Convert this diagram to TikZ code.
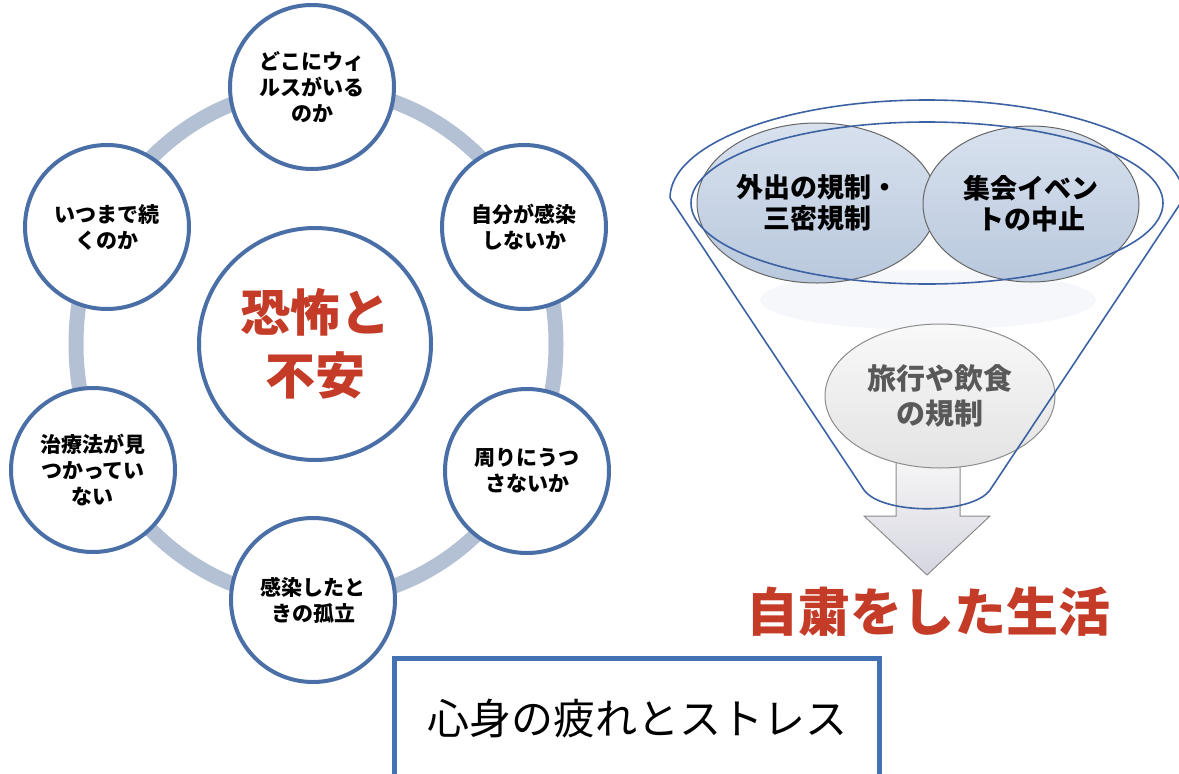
\documentclass[tikz,border=0pt]{standalone}
\usepackage{fontspec}
\setmainfont{Noto Sans CJK JP}
\usepackage{tikz}
\usetikzlibrary{positioning,shapes.geometric}
\definecolor{ringgray}{HTML}{B4C1D5}
\definecolor{rimblue}{HTML}{4A6EA6}
\definecolor{funnelblue}{HTML}{3D62A3}
\definecolor{boxblue}{HTML}{4272B4}
\definecolor{alarmred}{HTML}{C43C28}
\definecolor{curbtop}{HTML}{D8E1EE}
\definecolor{curbbottom}{HTML}{B9C8DD}
\definecolor{haze}{HTML}{F5F7FA}
\tikzset{%
	worry/.style    = {draw=rimblue, line width=4pt, fill=white, circle, minimum size=164pt, inner sep=0pt, align=center, font=\bfseries\fontsize{21}{26}\selectfont},
	core/.style     = {draw=rimblue, line width=4pt, fill=white, circle, minimum size=232pt, inner sep=0pt, align=center, text=alarmred, font=\bfseries\fontsize{50}{63}\selectfont},
	curb/.style     = {draw=black!60, line width=1pt, ellipse, inner sep=0pt, top color=curbtop, bottom color=curbbottom, align=center, font=\bfseries\fontsize{27}{31}\selectfont},
	softcurb/.style = {draw=black!45, line width=1pt, ellipse, inner sep=0pt, top color=gray!5, bottom color=gray!22, align=center, text=black!65, font=\bfseries\fontsize{29}{35}\selectfont},
	funnel/.style   = {draw=funnelblue, line width=1.6pt},
	outcome/.style  = {text=alarmred, font=\bfseries\fontsize{52}{60}\selectfont},
	stressbox/.style= {draw=boxblue, line width=5pt, fill=white, rectangle, minimum width=485pt, minimum height=122pt, font=\fontsize{42}{50}\selectfont},
}
\begin{document}
\begin{tikzpicture}[x=1pt,y=-1pt]
	\useasboundingbox (0,0) rectangle (1179,774);
	
	% ring of worries
	\draw[ringgray, line width=15pt] (316,344) ellipse (240 and 256);
	\node[core]  (fear)     at (315,344) {恐怖と\\不安};
	\node[worry] (where)    at (312,87)  {どこにウィ\\ルスがいる\\のか};
	\node[worry] (infected) at (524,227) {自分が感染\\しないか};
	\node[worry] (spread)   at (527,471) {周りにうつ\\さないか};
	\node[worry] (isolated) at (313,600) {感染したと\\きの孤立};
	\node[worry] (cure)     at (93,470)  {治療法が見\\つかってい\\ない};
	\node[worry] (howlong)  at (107,227) {いつまで続\\くのか};
	
	% funnel
	\fill[haze] (928,300) ellipse (168 and 30);
	\node[curb, minimum width=240pt, minimum height=160pt] (outing) at (817,203) {外出の規制・\\三密規制};
	\node[curb, minimum width=216pt, minimum height=156pt] (events) at (1031,204) {集会イベン\\トの中止};
	\draw[draw=black!45, line width=1pt, top color=gray!5, bottom color=blue!15!gray!28] (896,450) -- (960,450) -- (960,516) -- (990,516) -- (927,575) -- (864,516) -- (896,516) -- cycle;
	\node[softcurb, minimum width=230pt, minimum height=144pt] (travel) at (940,396) {旅行や飲食\\の規制};
	\draw[funnel] (927,203) ellipse (236 and 81);
	\draw[funnel] (670,198) -- (864,490) .. controls (882,515) and (972,515) .. (990,490) -- (1184,198) arc[start angle=0, end angle=-180, x radius=257, y radius=98];
	\node[outcome] (selfrestraint) at (928,612) {自粛をした生活};
	
	% result
	\node[stressbox] (stress) at (637,719) {心身の疲れとストレス};
	
\end{tikzpicture}
\end{document}
